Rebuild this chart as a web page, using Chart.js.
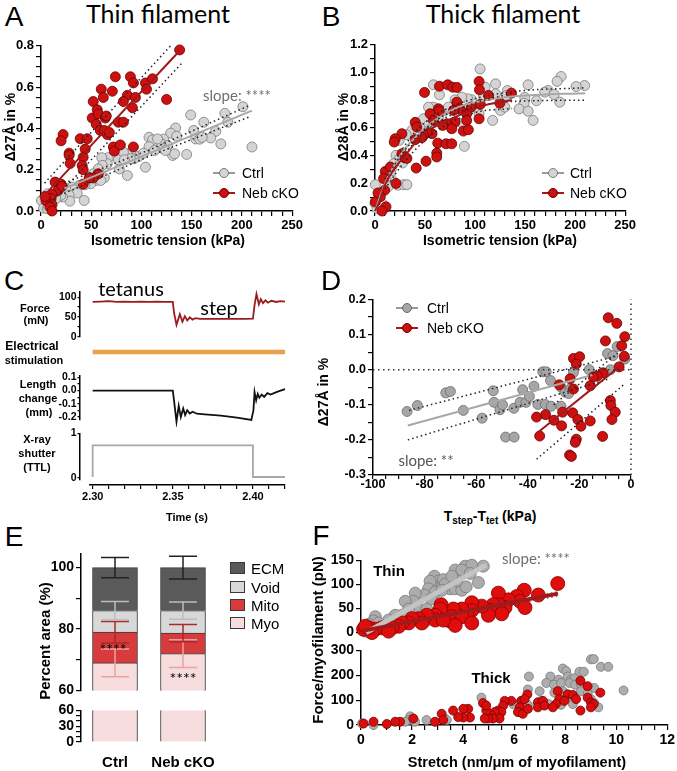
<!DOCTYPE html>
<html>
<head>
<meta charset="utf-8">
<title>Thin / thick filament strain</title>
<script src="https://cdn.jsdelivr.net/npm/chart.js@4.4.1/dist/chart.umd.min.js"></script>
<style>
  html, body { margin: 0; padding: 0; background: #fff; }
  body { position: relative; width: 677px; height: 771px; overflow: hidden;
         font-family: "Liberation Sans", Arial, sans-serif; color: #000; }
  canvas { position: absolute; }
  .tx { position: absolute; white-space: nowrap; line-height: 1; transform: translate(-50%, -50%); }
  .rot { transform: translate(-50%, -50%) rotate(-90deg); }
  .lft { transform: translate(0, -50%); }
  .b { font-weight: bold; }
  .cal { font-family: Lato, "Open Sans", sans-serif; }
  .tx sub { font-size: 10px; vertical-align: -3px; }
</style>
</head>
<body>
<script>
// ---------- data ----------

// A: thin filament, [tension kPa, d27A %]
const thinNeb = [[138,0.78],[74,0.65],[89,0.65],[92,0.62],[104,0.62],[111,0.64],[105,0.59],[60,0.59],[71,0.58],[52,0.53],
  [62,0.55],[86,0.56],[94,0.55],[82,0.53],[91,0.5],[125,0.54],[56,0.49],[51,0.45],[57,0.47],[64,0.45],
  [65,0.46],[55,0.42],[59,0.39],[63,0.39],[66,0.37],[68,0.38],[77,0.43],[82,0.43],[22,0.37],[20,0.34],
  [39,0.35],[46,0.35],[28,0.28],[28,0.27],[44,0.3],[29,0.23],[42,0.26],[41,0.22],[42,0.2],[72,0.31],
  [73,0.29],[79,0.32],[92,0.31],[57,0.18],[52,0.16],[48,0.16],[42,0.13],[14,0.14],[20,0.13],[17,0.1],
  [21,0.12],[11,0.08],[10,0.06],[5,0.05],[11,0.03],[9,0.02],[11,0.0],[4,0.07]];
const thinCtrl = [[201,0.505],[210,0.31],[183,0.473],[186,0.43],[174,0.386],[179,0.325],[149,0.465],[162,0.43],[152,0.39],[154,0.349],
  [158,0.348],[169,0.354],[160.5,0.357],[134,0.402],[129,0.377],[135,0.362],[122,0.348],[120,0.325],[126,0.317],[131,0.269],
  [133,0.277],[145,0.274],[107.5,0.357],[111,0.344],[116,0.349],[107.5,0.312],[122,0.301],[124,0.293],[113,0.293],[104,0.212],
  [97,0.264],[102,0.28],[86,0.277],[92.6,0.253],[89,0.253],[86,0.172],[78,0.204],[67,0.258],[66,0.229],[60.5,0.258],
  [61,0.221],[77,0.248],[82,0.285],[83,0.248],[57,0.204],[52,0.18],[63,0.161],[55,0.148],[59.5,0.148],[49.5,0.132],
  [43.6,0.127],[38,0.124],[30.6,0.116],[33,0.103],[36,0.087],[43,0.051],[24.7,0.108],[28,0.076],[28.7,0.048],[21.4,0.068],
  [19.7,0.076],[16.4,0.092],[14.7,0.059],[6.5,0.083],[0.5,0.051],[2.5,0.014],[6.5,0.011],[7.4,0.024]];
const thinNebFit = [[5,0.084],[138,0.776]];
const thinNebCiHi = [[3.5,0.135],[129,0.80]];
const thinNebCiLo = [[10,0.04],[141,0.72]];
const thinCtrlFit = [[23,0.108],[210,0.486]];
const thinCtrlCiHi = [[23,0.135],[110,0.30],[207,0.51]];
const thinCtrlCiLo = [[23,0.085],[110,0.27],[207,0.455]];

// B: thick filament, [tension kPa, d28A %]
const thickNeb = [[49.5,0.856],[64.4,0.901],[72.7,0.911],[77.7,0.894],[82,0.892],[104,0.935],[104.4,0.875],[113.5,0.834],[136.4,0.851],[124.8,0.779],
  [105.2,0.77],[96,0.75],[91.6,0.702],[91.6,0.654],[104,0.666],[81.7,0.786],[85,0.738],[78.4,0.726],[63.4,0.738],[64.4,0.721],
  [55.1,0.702],[58.4,0.654],[80,0.642],[71.7,0.63],[76.7,0.594],[88.3,0.577],[93.3,0.587],[67.7,0.618],[57,0.558],[52,0.57],
  [48.5,0.546],[40.2,0.64],[41.8,0.606],[46.8,0.529],[40.1,0.515],[62.7,0.49],[71,0.485],[76.7,0.485],[61.7,0.418],[61.7,0.39],
  [51,0.359],[41.2,0.31],[26.9,0.558],[20.2,0.522],[19.2,0.498],[29.5,0.385],[26.9,0.414],[31.9,0.38],[21,0.199],[10.3,0.286],
  [15.3,0.317],[8.6,0.234],[9.6,0.15],[5.3,0.103],[3,0.13],[11,0.03],[7,0.0],[0.3,0.065]];
const thickCtrl = [[105,1.026],[186,0.971],[182,0.936],[209.5,0.906],[201,0.899],[173,0.87],[153,0.911],[169.6,0.858],[179,0.841],[184.6,0.786],
  [161.3,0.796],[149.7,0.82],[149,0.778],[144,0.737],[153,0.721],[158,0.654],[132.4,0.87],[131.5,0.834],[120.5,0.918],[120.5,0.846],
  [125.5,0.726],[129.8,0.75],[117.5,0.654],[110,0.894],[108.4,0.826],[104,0.702],[100,0.75],[96.6,0.803],[92.6,0.81],[86.7,0.822],
  [80,0.803],[85,0.731],[87.3,0.63],[89.3,0.467],[58.4,0.911],[64.4,0.839],[58.4,0.75],[53.5,0.75],[70,0.726],[73.4,0.75],
  [63.4,0.678],[48.5,0.666],[53.5,0.618],[45.1,0.601],[36.9,0.582],[31.2,0.551],[24.2,0.51],[21,0.402],[23.6,0.371],[27.6,0.347],
  [18.6,0.342],[16.3,0.306],[15.3,0.27],[11,0.246],[17,0.222],[13.6,0.202],[22.9,0.186],[28.5,0.19],[31.9,0.19],[12.9,0.174],
  [0.3,0.19],[3.7,0.102],[0,0.054],[7,0.054],[2,0.018]];
const thickCtrlFit = [[0,0],[10,0.2],[20,0.34],[30,0.45],[40,0.53],[50,0.6],[65,0.68],[80,0.74],[100,0.785],[130,0.822],[160,0.838],[190,0.847],[210,0.85]];
const thickNebFit = [[0,0],[4,0.06],[10,0.19],[20,0.31],[30,0.4],[47,0.546],[60,0.61],[80,0.677],[103,0.75],[120,0.78],[137,0.8]];
const thickCtrlCiHi = [[20,0.37],[40,0.57],[60,0.69],[90,0.79],[136,0.86],[210,0.89]];
const thickCtrlCiLo = [[20,0.31],[40,0.5],[60,0.63],[90,0.73],[136,0.79],[210,0.80]];
const thickNebCiHi = [[10,0.23],[30,0.44],[60,0.65],[100,0.78],[137,0.85]];
const thickNebCiLo = [[10,0.16],[30,0.36],[60,0.57],[100,0.71],[137,0.74]];

// C: example traces, time in s
const forceT = [2.300,2.305,2.310,2.315,2.320,2.325,2.330,2.335,2.340,2.345,2.3500,2.3508,2.3523,2.3544,2.3560,2.3575,2.3590,2.3606,2.3623,2.3640,
  2.3670,2.3750,2.3850,2.3950,2.4000,2.4010,2.4022,2.4037,2.4049,2.4063,2.4078,2.4094,2.4115,2.4146,2.4170,2.4200];
const forceV = [88,89,90,88,89,88,89,88,89,88,88,60,30,57,38,52,41,49,43,47,
  45,45,45,45,46,80,108,82,95,85,92,86,91,88,90,89];
const stimT = [2.300, 2.420];
const stimV = [1, 1];
const lenT = [2.300,2.310,2.320,2.330,2.340,2.350,2.3508,2.3523,2.3537,2.3550,2.3565,2.3577,2.3590,2.3606,2.3623,2.3650,2.3700,2.3800,2.3900,2.3990,
  2.4003,2.4010,2.4020,2.4030,2.4040,2.4055,2.4070,2.4090,2.4110,2.4150,2.4200];
const lenV = [0,0,0,0,0,0,-0.08,-0.235,-0.115,-0.2,-0.135,-0.185,-0.148,-0.173,-0.16,-0.175,-0.18,-0.19,-0.205,-0.222,
  -0.15,-0.012,-0.074,-0.025,-0.054,-0.03,-0.048,-0.02,-0.03,-0.01,0.01];
const shutterT = [2.300, 2.300, 2.400, 2.400, 2.420];
const shutterV = [0.02, 0.73, 0.73, 0.02, 0.02];

// D: [Tstep-Ttet kPa, d27A %]
const stepCtrl = [[-86.8,-0.119],[-82.8,-0.102],[-71.8,-0.066],[-70,-0.062],[-65,-0.116],[-57.7,-0.138],[-53.4,-0.06],[-53.1,-0.093],[-50.8,-0.114],[-49.8,-0.1],
  [-48.6,-0.192],[-45.3,-0.192],[-45.4,-0.11],[-43,-0.093],[-42,-0.057],[-40.7,-0.093],[-39.4,-0.076],[-37.6,-0.047],[-36.1,-0.099],[-34.2,-0.006],
  [-32.9,-0.006],[-33.2,-0.099],[-30.9,-0.104],[-31.2,-0.031],[-27.1,-0.104],[-27.1,-0.05],[-25.5,-0.064],[-23.6,-0.055],[-22.3,-0.008],[-24.2,-0.068],
  [-16.2,0.0],[-8,0.0],[-9.1,0.046],[-7,0.04],[-5.4,0.066],[-2.4,0.03]];
const stepNeb = [[-8.8,0.148],[-5.5,0.132],[-2.4,0.094],[-9.9,0.082],[-3.6,0.068],[-2.6,0.038],[-4.6,0.008],[-10.8,-0.009],[-13.1,-0.018],[-14.6,-0.021],
  [-22.3,0.032],[-19.9,0.037],[-21.2,0.016],[-23.6,-0.026],[-27.8,-0.043],[-15.8,-0.046],[-22.3,-0.055],[-8,-0.088],[-7.8,-0.102],[-6.1,-0.121],
  [-7.4,-0.142],[-22.6,-0.123],[-26.5,-0.121],[-33.1,-0.128],[-36.6,-0.135],[-29.9,-0.144],[-26.9,-0.16],[-20.6,-0.142],[-19.4,-0.161],[-15.8,-0.146],
  [-35.4,-0.189],[-21.2,-0.198],[-21.6,-0.207],[-11,-0.19],[-23.8,-0.243],[-23.1,-0.247]];
const stepCtrlFit = [[-86.5,-0.159],[-15,-0.015]];
const stepCtrlCiHi = [[-86,-0.116],[-5,0.04]];
const stepCtrlCiLo = [[-86.5,-0.2],[-8,-0.025]];
const stepNebFit = [[-36.6,-0.182],[-4.6,0.008]];
const stepNebCiHi = [[-30,-0.1],[-3,0.06]];
const stepNebCiLo = [[-36.6,-0.255],[-2.4,-0.04]];
const zeroH = [[-100,0],[0,0]];
const zeroV = [[0,-0.3],[0,0.2]];

// E: area fractions (%), stacked
const areaGroups = ['Ctrl', 'Neb cKO'];
const myoArea = [69, 72];
const mitoArea = [10, 6.7];
const voidArea = [7, 7.3];
const ecmArea = [14, 14];
const myoErr = [4.5, 4.5];
const mitoErr = [3.5, 2.8];
const voidErr = [3, 2.8];
const ecmErr = [3.3, 3.7];

// F: [stretch nm/um, force pN]
const fThinCtrl = [[4.07,138],[4.33,140],[4.78,138],[3.68,130],[3.94,130],[4.27,123],[4.59,104],[2.87,117],[3.03,107],[3.22,110],
  [3.29,101],[3.48,91],[3.68,91],[3.94,88],[4.11,95],[3.74,108],[3.55,117],[2.74,101],[2.70,107],[2.64,91],
  [2.90,84],[3.16,88],[2.48,78],[2.74,70],[2.12,82],[2.05,65],[1.73,65],[2.25,49],[2.57,49],[1.86,49],
  [1.60,36],[1.34,36],[1.08,26],[0.56,33],[0.49,24],[0.69,20],[0.30,17],[0.17,3],[2.25,29],[2.57,26]];
const fThinNeb = [[7.69,102],[6.93,78],[6.38,88],[6.09,75],[6.22,65],[6.41,52],[5.76,68],[5.63,52],[5.37,82],[5.37,58],
  [5.17,58],[5.04,46],[5.50,39],[4.98,36],[4.72,55],[4.33,62],[4.33,46],[4.14,36],[3.94,49],[3.61,49],
  [3.55,33],[3.94,33],[3.48,24],[3.68,15],[3.13,58],[3.10,49],[2.90,36],[2.90,26],[3.22,26],[2.57,36],
  [2.25,29],[2.38,20],[1.99,29],[1.86,20],[1.60,20],[1.47,13],[1.21,10],[0.82,10],[0.56,7],[0.43,0],
  [0.30,10],[0.10,7],[0.17,13],[1.08,3],[4.33,20]];
const fThinCtrlFit = [[0.2,0],[4.9,141]];
const fThinCtrlCi = [[0.2,3],[4.9,146]];
const fThinNebFit = [[0,3],[7.7,81]];
const fThinNebCiHi = [[0,5],[7.7,85]];
const fThinNebCiLo = [[0,1],[7.7,76]];
const fThickCtrl = [[9.01,264],[9.12,265],[9.40,234],[9.69,234],[10.29,139],[7.91,227],[8.04,217],[8.56,214],[8.73,214],[6.58,195],
  [7.42,195],[7.74,182],[8.10,195],[8.23,182],[8.36,188],[7.26,169],[7.56,162],[7.84,169],[8.17,169],[8.39,162],
  [8.62,162],[8.88,152],[9.14,149],[7.0,136],[6.54,143],[7.58,130],[7.91,136],[8.10,123],[8.62,136],[8.88,127],
  [8.30,108],[7.06,97],[7.35,84],[7.84,81],[8.30,84],[9.14,88],[9.01,104],[9.30,71],[6.54,81],[6.28,97],
  [4.72,110],[5.96,84],[3.29,26],[3.36,20],[2.57,20],[1.93,35],[1.86,20],[2.12,13],[1.73,13],[0.49,0],[0.04,6]];
const fThickNeb = [[8.60,178],[8.88,156],[9.38,130],[7.71,136],[8.10,123],[8.30,121],[7.77,104],[7.64,84],[7.97,97],[8.43,104],
  [8.88,110],[9.01,91],[9.12,84],[9.01,71],[8.60,58],[6.52,123],[6.28,97],[6.41,104],[6.93,91],[7.13,97],
  [6.93,71],[7.19,78],[7.52,71],[6.22,71],[6.15,52],[6.34,45],[6.54,65],[5.89,97],[5.63,97],[5.57,78],
  [5.37,58],[5.50,52],[5.24,52],[5.11,39],[5.43,26],[5.17,26],[4.98,26],[4.91,58],[4.78,88],[4.91,78],
  [4.85,26],[4.20,65],[4.01,65],[4.27,30],[4.01,30],[3.81,32],[3.61,58],[3.16,45],[3.22,20],[2.90,13],
  [2.05,26],[1.53,13],[1.34,13],[1.01,4],[0.49,13],[0.10,6]];

// ---------- styling ----------
const AXFONT = '"Liberation Sans", Arial, sans-serif';
const DOT = [1.5, 3];
const RED = '#cc1111', RED_EDGE = '#6a0000', RED_LINE = '#a31818';
const LIGHT = '#d4d4d4', MID = '#a6a6a6', GRAY_EDGE = '#7a7a7a';

Chart.defaults.font.family = AXFONT;
Chart.defaults.color = '#000';
Chart.defaults.animation = false;
Chart.defaults.events = [];
Chart.defaults.plugins.legend.display = false;
Chart.defaults.plugins.tooltip.enabled = false;

const pairs = (xs, ys) => xs.map((x, i) => [x, ys[i]]);
const onStep = (v, s) => Math.abs(v / s - Math.round(v / s)) < 1e-6;
const fixed = n => v => (Math.abs(v) < 1e-9 ? 0 : v).toFixed(n);
const whole = v => String(Math.round(v));

function numAxis(min, max, step, every, fmt, size, extra) {
  return Object.assign({
    type: 'linear', min, max,
    ticks: {
      stepSize: step, maxTicksLimit: 1000, autoSkip: false, includeBounds: false, maxRotation: 0,
      color: '#000', padding: 2, font: { family: AXFONT, weight: 'bold', size: size || 13 },
      callback: v => (onStep(v, every) ? fmt(v) : '')
    },
    grid: { drawOnChartArea: false, drawTicks: true, tickLength: 5, color: '#000', lineWidth: 1.2 },
    border: { display: true, color: '#000', width: 1.5 }
  }, extra || {});
}
const hidden = (min, max) => ({ type: 'linear', min, max, display: false });
function tight(axis, len, pad) {
  axis.grid.tickLength = len;
  axis.ticks.padding = pad;
  return axis;
}

function dots(data, fill, edge, r, order) {
  return { data, showLine: false, pointRadius: r, backgroundColor: fill, borderColor: edge,
           pointBorderWidth: 0.8, clip: false, order };
}
function line(data, color, width, dash, smooth) {
  return { data, showLine: true, pointRadius: 0, borderColor: color, borderWidth: width,
           borderDash: dash || [], fill: false, clip: false, order: 0,
           cubicInterpolationMode: smooth ? 'monotone' : 'default' };
}

// rect = plot area on the page, m = room kept round it for ticks and labels
function makeChart(rect, m, config) {
  const c = document.createElement('canvas');
  const w = rect.r - rect.l + m.l + m.r, h = rect.b - rect.t + m.t + m.b;
  c.width = w; c.height = h;
  Object.assign(c.style, { left: (rect.l - m.l) + 'px', top: (rect.t - m.t) + 'px', width: w + 'px', height: h + 'px' });
  document.body.appendChild(c);
  const sc = config.options.scales;
  const xOn = sc.x.display !== false, yOn = sc.y.display !== false;
  if (xOn) sc.x.afterFit = s => { s.height = m.b; };
  if (yOn) sc.y.afterFit = s => { s.width = m.l; };
  Object.assign(config.options, {
    responsive: false,
    layout: { padding: { left: yOn ? 0 : m.l, top: m.t, right: m.r, bottom: xOn ? 0 : m.b } }
  });
  return new Chart(c, config);
}

function text(str, x, y, cls, css) {
  const d = document.createElement('div');
  d.className = 'tx ' + (cls || '');
  d.innerHTML = str;
  Object.assign(d.style, { left: x + 'px', top: y + 'px' }, css || {});
  document.body.appendChild(d);
}
function box(x, y, w, h, css) {
  const d = document.createElement('div');
  Object.assign(d.style, { position: 'absolute', left: x + 'px', top: y + 'px', width: w + 'px', height: h + 'px', boxSizing: 'border-box' }, css);
  document.body.appendChild(d);
}
function legendRow(cx, cy, tx, lineColor, fill, edge, label) {
  box(cx - 11, cy - 0.75, 22, 1.5, { background: lineColor });
  box(cx - 5, cy - 5, 10, 10, { background: fill, border: '1px solid ' + edge, borderRadius: '50%' });
  text(label, tx, cy, 'lft', { fontSize: '14px' });
}

// ---------- A ----------
makeChart({ l: 41, t: 45, r: 293, b: 211 }, { l: 34, t: 9, r: 12, b: 22 }, {
  type: 'scatter',
  data: { datasets: [
    line(thinNebFit, RED_LINE, 2), line(thinNebCiHi, '#222', 1.5, DOT), line(thinNebCiLo, '#222', 1.5, DOT),
    line(thinCtrlFit, '#a8a8a8', 2), line(thinCtrlCiHi, '#222', 1.5, DOT), line(thinCtrlCiLo, '#222', 1.5, DOT),
    dots(thinNeb, RED, RED_EDGE, 5, 1), dots(thinCtrl, LIGHT, GRAY_EDGE, 5, 2)
  ] },
  options: { scales: {
    x: numAxis(0, 250, 10, 50, whole),
    y: numAxis(0, 0.8, 0.05, 0.2, fixed(1))
  } }
});

// ---------- B ----------
makeChart({ l: 375, t: 44, r: 626, b: 211 }, { l: 34, t: 9, r: 12, b: 22 }, {
  type: 'scatter',
  data: { datasets: [
    line(thickNebFit, RED_LINE, 2, null, true), line(thickNebCiHi, '#222', 1.5, DOT, true), line(thickNebCiLo, '#222', 1.5, DOT, true),
    line(thickCtrlFit, '#a8a8a8', 2, null, true), line(thickCtrlCiHi, '#222', 1.5, DOT, true), line(thickCtrlCiLo, '#222', 1.5, DOT, true),
    dots(thickNeb, RED, RED_EDGE, 5, 1), dots(thickCtrl, LIGHT, GRAY_EDGE, 5, 2)
  ] },
  options: { scales: {
    x: numAxis(0, 250, 10, 50, whole),
    y: numAxis(0, 1.2, 0.1, 0.2, fixed(1))
  } }
});

// ---------- C ----------
const C_TMIN = 2.2921, C_TMAX = 2.42;
const trace = (data, color, width) => ({ type: 'scatter', data: { datasets: [line(data, color, width)] } });

const cForce = trace(pairs(forceT, forceV), '#9b1c1c', 1.8);
cForce.options = { scales: { x: hidden(C_TMIN, C_TMAX), y: tight(numAxis(0, 115, 25, 50, whole, 10.5), 2.5, 1) } };
makeChart({ l: 80, t: 291, r: 285, b: 337 }, { l: 26, t: 7, r: 4, b: 7 }, cForce);

const cStim = trace(pairs(stimT, stimV), '#e9a24a', 4.5);
cStim.options = { scales: { x: hidden(C_TMIN, C_TMAX), y: hidden(0, 2) } };
makeChart({ l: 80, t: 346, r: 285, b: 358 }, { l: 0, t: 0, r: 4, b: 0 }, cStim);

const cLen = trace(pairs(lenT, lenV), '#111', 1.8);
cLen.options = { scales: { x: hidden(C_TMIN, C_TMAX), y: tight(numAxis(-0.22, 0.115, 0.05, 0.1, fixed(1), 10.5), 2.5, 1) } };
makeChart({ l: 80, t: 375, r: 285, b: 420 }, { l: 26, t: 7, r: 4, b: 7 }, cLen);

const cShut = trace(pairs(shutterT, shutterV), '#a8a8a8', 1.8);
cShut.options = { scales: { x: hidden(C_TMIN, C_TMAX), y: tight(numAxis(-0.04, 1, 1, 1, whole, 10.5), 2.5, 1) } };
makeChart({ l: 80, t: 433, r: 285, b: 480 }, { l: 26, t: 7, r: 4, b: 7 }, cShut);

const cTime = { type: 'scatter', data: { datasets: [] }, options: { scales: {
  x: tight(numAxis(2.2983, 2.42, 0.01, 0.05, fixed(2), 11), 4, 1),
  y: hidden(0, 1)
} } };
makeChart({ l: 90, t: 478, r: 285, b: 485 }, { l: 14, t: 0, r: 14, b: 22 }, cTime);

// ---------- D ----------
makeChart({ l: 373, t: 298, r: 631, b: 475 }, { l: 35, t: 8, r: 10, b: 20 }, {
  type: 'scatter',
  data: { datasets: [
    line(zeroH, '#333', 1.5, [1.5, 3.5]), line(zeroV, '#333', 1.5, [1.5, 3.5]),
    line(stepNebFit, RED_LINE, 2), line(stepNebCiHi, '#222', 1.5, DOT), line(stepNebCiLo, '#222', 1.5, DOT),
    line(stepCtrlFit, '#a8a8a8', 2), line(stepCtrlCiHi, '#222', 1.5, DOT), line(stepCtrlCiLo, '#222', 1.5, DOT),
    dots(stepNeb, RED, RED_EDGE, 5, 1), dots(stepCtrl, MID, '#6b6b6b', 5, 2)
  ] },
  options: { scales: {
    x: tight(numAxis(-100, 0, 5, 20, whole, 12.5), 4, -2),
    y: numAxis(-0.3, 0.2, 0.05, 0.1, fixed(1), 12.5)
  } }
});

// ---------- E ----------
const errorBars = {
  id: 'errorBars',
  afterDatasetsDraw(chart, args, opts) {
    const ctx = chart.ctx, ys = chart.scales.y;
    ctx.save();
    (opts.items || []).forEach(it => {
      chart.getDatasetMeta(it.index).data.forEach((bar, i) => {
        const v = ys.getValueForPixel(bar.y);
        const y1 = ys.getPixelForValue(v - it.err[i]), y2 = ys.getPixelForValue(v + it.err[i]);
        ctx.strokeStyle = it.color;
        ctx.lineWidth = 1.5;
        ctx.beginPath();
        ctx.moveTo(bar.x, y1); ctx.lineTo(bar.x, y2);
        ctx.moveTo(bar.x - 14, y1); ctx.lineTo(bar.x + 14, y1);
        ctx.moveTo(bar.x - 14, y2); ctx.lineTo(bar.x + 14, y2);
        ctx.stroke();
      });
    });
    ctx.restore();
  }
};
function areaSets() {
  const common = { borderColor: '#3a3a3a', borderWidth: 1, barThickness: 45 };
  return [
    Object.assign({ label: 'Myo', data: myoArea, backgroundColor: '#f6dcdc' }, common),
    Object.assign({ label: 'Mito', data: mitoArea, backgroundColor: '#d83b3b' }, common),
    Object.assign({ label: 'Void', data: voidArea, backgroundColor: '#d8d8d8' }, common),
    Object.assign({ label: 'ECM', data: ecmArea, backgroundColor: '#5a5a5a' }, common)
  ];
}
const eUpperY = numAxis(60, 104.6, 10, 20, whole, 14, { stacked: true });
makeChart({ l: 81, t: 547, r: 217, b: 692 }, { l: 34, t: 4, r: 4, b: 9 }, {
  type: 'bar',
  data: { labels: areaGroups, datasets: areaSets() },
  plugins: [errorBars],
  options: {
    scales: { x: { type: 'category', stacked: true, display: false }, y: eUpperY },
    plugins: { errorBars: { items: [
      { index: 0, err: myoErr, color: '#eaa3a3' },
      { index: 1, err: mitoErr, color: '#a82a2a' },
      { index: 2, err: voidErr, color: '#bdbdbd' },
      { index: 3, err: ecmErr, color: '#222' }
    ] } }
  }
});
const eLowerY = numAxis(0, 60, 10, 30, whole, 14, { stacked: true });
makeChart({ l: 81, t: 708, r: 217, b: 742 }, { l: 34, t: 8, r: 4, b: 26 }, {
  type: 'bar',
  data: { labels: areaGroups, datasets: areaSets() },
  options: { scales: {
    x: { type: 'category', stacked: true,
         ticks: { color: '#000', padding: 4, font: { family: AXFONT, weight: 'bold', size: 15 } },
         grid: { display: false }, border: { display: false } },
    y: eLowerY
  } }
});

// ---------- F ----------
makeChart({ l: 361, t: 558, r: 668, b: 635 }, { l: 36, t: 8, r: 9, b: 8 }, {
  type: 'scatter',
  data: { datasets: [
    line(fThinNebFit, RED_LINE, 4), line(fThinNebCiHi, '#555', 1.3, DOT), line(fThinNebCiLo, '#555', 1.3, DOT),
    line(fThinCtrlFit, '#c4c4c4', 5), line(fThinCtrlCi, '#666', 1.3, DOT),
    dots(fThinNeb, '#e00d0d', '#8a0000', 7, 1), dots(fThinCtrl, '#acacac', GRAY_EDGE, 6, 2)
  ] },
  options: { scales: { x: hidden(0, 12), y: numAxis(0, 150, 50, 50, whole, 14) } }
});
makeChart({ l: 361, t: 648, r: 668, b: 725 }, { l: 36, t: 8, r: 9, b: 22 }, {
  type: 'scatter',
  data: { datasets: [
    dots(fThickNeb, '#d80d0d', '#7a0000', 4.5, 1), dots(fThickCtrl, '#adadad', GRAY_EDGE, 4.5, 2)
  ] },
  options: { scales: {
    x: numAxis(0, 12, 0.5, 2, whole, 14),
    y: numAxis(0, 300, 100, 100, whole, 14)
  } }
});

// ---------- text ----------
['A', 'B', 'C', 'D', 'E', 'F'].forEach((s, i) => {
  const pos = [[14, 17], [331, 17], [14, 281], [331, 281], [14, 537], [321, 536]][i];
  text(s, pos[0], pos[1], '', { fontSize: '28px' });
});
text('Thin filament', 158, 13, 'cal', { fontSize: '25px' });
text('Thick filament', 503, 13, 'cal', { fontSize: '25px' });

text('Δ27Å in %', 10, 127, 'rot b', { fontSize: '14px' });
text('Isometric tension (kPa)', 168, 240, 'b', { fontSize: '14px' });
text('slope: ****', 237, 95, 'cal', { fontSize: '15px', color: '#707070' });
legendRow(224, 173, 242, '#9a9a9a', LIGHT, GRAY_EDGE, 'Ctrl');
legendRow(224, 193, 242, RED_LINE, RED, RED_EDGE, 'Neb cKO');

text('Δ28Å in %', 343, 127, 'rot b', { fontSize: '14px' });
text('Isometric tension (kPa)', 500, 240, 'b', { fontSize: '14px' });
legendRow(553, 173, 570, '#9a9a9a', LIGHT, GRAY_EDGE, 'Ctrl');
legendRow(553, 193, 570, RED_LINE, RED, RED_EDGE, 'Neb cKO');

const cLab = { fontSize: '11px' };
text('Force', 35, 308, 'b', cLab); text('(mN)', 36, 320, 'b', cLab);
text('Electrical', 32, 346, 'b', { fontSize: '12px' }); text('stimulation', 34, 360, 'b', cLab);
text('Length', 38, 384, 'b', cLab); text('change', 38, 398, 'b', cLab); text('(mm)', 39, 412, 'b', cLab);
text('X-ray', 37, 439, 'b', cLab); text('shutter', 37, 453, 'b', cLab); text('(TTL)', 37, 467, 'b', cLab);
text('tetanus', 131, 288, 'cal', { fontSize: '20px' });
text('step', 219, 307, 'cal', { fontSize: '20px' });
text('Time (s)', 187, 517, 'b', { fontSize: '11px' });

text('Δ27Å in %', 323, 392, 'rot b', { fontSize: '14px' });
text('T<sub>step</sub>-T<sub>tet</sub> (kPa)', 490, 517, 'b', { fontSize: '14px' });
text('slope: **', 426, 460, 'cal', { fontSize: '15px', color: '#555' });
legendRow(407, 308, 427, '#9a9a9a', MID, '#6b6b6b', 'Ctrl');
legendRow(407, 328, 427, RED_LINE, RED, RED_EDGE, 'Neb cKO');

text('Percent area (%)', 44, 641, 'rot b', { fontSize: '15px' });
text('****', 113, 649, 'cal', { fontSize: '16px' });
text('****', 183, 678, 'cal', { fontSize: '16px' });
[['ECM', '#5a5a5a', 568], ['Void', '#d8d8d8', 587], ['Mito', '#d83b3b', 605], ['Myo', '#f6dcdc', 623]].forEach(r => {
  box(230, r[2] - 6, 15, 12, { background: r[1], border: '1px solid #3a3a3a' });
  text(r[0], 251, r[2], 'lft', { fontSize: '15px' });
});

text('Force/myofilament (pN)', 317, 640, 'rot b', { fontSize: '15px' });
text('Stretch (nm/μm of myofilament)', 517, 762, 'b', { fontSize: '14.5px' });
text('Thin', 389, 570, 'b', { fontSize: '15px' });
text('Thick', 491, 677, 'b', { fontSize: '15px' });
text('slope: ****', 536, 558, 'cal', { fontSize: '15px', color: '#707070' });
</script>
</body>
</html>
